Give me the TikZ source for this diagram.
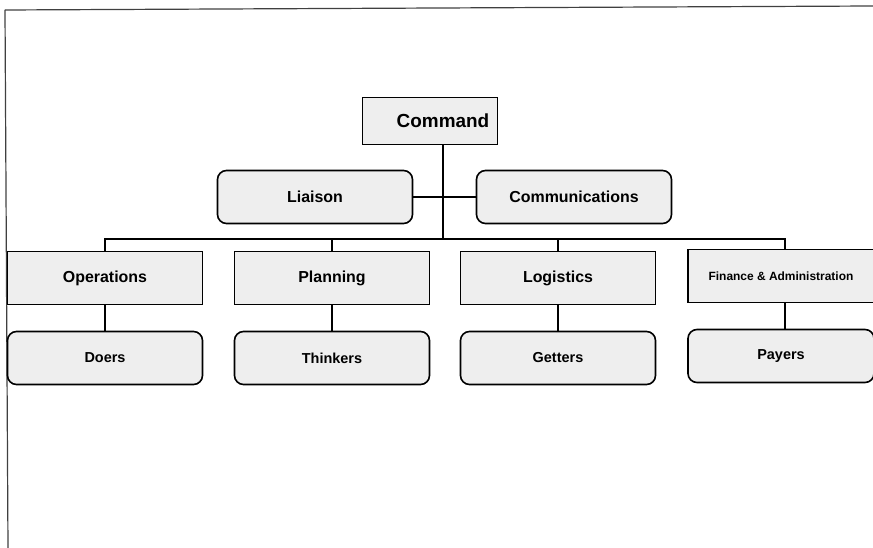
\documentclass[tikz,border=0pt]{standalone}
\usepackage{fontspec}
\setmainfont{Liberation Sans}
\begin{document}
\begin{tikzpicture}[x=1bp,y=-1bp,
  unitbox/.style={draw=black, line width=1.6bp, fill=gray!13, inner sep=0pt},
  sqbox/.style={unitbox, minimum width=195bp, minimum height=53bp},
  rbox/.style={unitbox, rounded corners=9bp, minimum width=195bp, minimum height=53bp},
  link/.style={draw=black, line width=2.6bp},
  frameline/.style={draw=black!75, line width=1.2bp},
  big/.style={font=\fontsize{19}{22}\selectfont\bfseries},
  mid/.style={font=\fontsize{16}{19}\selectfont\bfseries},
  low/.style={font=\fontsize{14.5}{17}\selectfont\bfseries},
  tiny/.style={font=\fontsize{12}{14}\selectfont\bfseries}]
\useasboundingbox (0,0) rectangle (873,548);

% page frame
\draw[frameline] (5,10) -- (873,6);
\draw[frameline] (5,10) -- (8,548);

% top of the chart
\node[unitbox, minimum width=135bp, minimum height=47bp] (command) at (430,121) {};
\node[big] (commandtext) at (443,121) {Command};

% staff boxes
\node[rbox, mid] (liaison) at (315,197) {Liaison};
\node[rbox, mid] (comms) at (574,197) {Communications};

% sections
\node[sqbox, mid] (ops) at (105,278) {Operations};
\node[sqbox, mid] (plan) at (332,278) {Planning};
\node[sqbox, mid] (logi) at (558,278) {Logistics};
\node[sqbox, tiny, minimum width=186bp] (fin) at (781,276) {Finance \& Administration};

% roles
\node[rbox, low] (doers) at (105,358) {Doers};
\node[rbox, low] (thinkers) at (332,358) {Thinkers};
\node[rbox, low] (getters) at (558,358) {Getters};
\node[rbox, low, minimum width=186bp] (payers) at (781,356) {Payers};

% connectors
\coordinate (hub) at (443,239);
\draw[link] (command.south -| hub) -- (hub);
\draw[link] (liaison.east) -- (comms.west);
\draw[link] (ops.north) -- (ops.north |- hub) -- ([xshift=4bp]fin.north |- hub) -- ([xshift=4bp]fin.north);
\draw[link] (plan.north) -- (plan.north |- hub);
\draw[link] (logi.north) -- (logi.north |- hub);
\draw[link] (ops.south) -- (doers.north);
\draw[link] (plan.south) -- (thinkers.north);
\draw[link] (logi.south) -- (getters.north);
\draw[link] ([xshift=4bp]fin.south) -- ([xshift=4bp]payers.north);
\end{tikzpicture}
\end{document}
